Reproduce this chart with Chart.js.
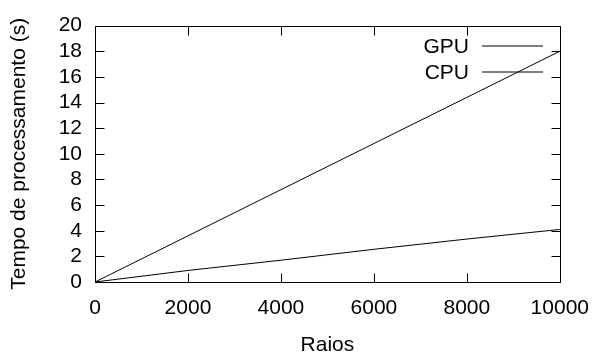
<!DOCTYPE html>
<html>
<head>
<meta charset="utf-8">
<script src="https://cdn.jsdelivr.net/npm/chart.js@4/dist/chart.umd.min.js"></script>
<style>
  html, body { margin: 0; padding: 0; background: #fff; }
  #wrap { width: 603px; height: 358px; }
</style>
</head>
<body>
<div id="wrap"><canvas id="c" width="603" height="358"></canvas></div>
<script>
// ---- data ----
const raios = [0, 2000, 4000, 6000, 8000, 10000];
const gpuTempo = [0, 3.6, 7.2, 10.8, 14.4, 18.0];
const cpuTempo = [0, 0.9, 1.7, 2.55, 3.35, 4.1];
const seriesLabels = ['GPU', 'CPU'];
const xTitle = 'Raios';
const yTitle = 'Tempo de processamento (s)';
const xTickStep = 2000, xMin = 0, xMax = 10000;
const yTickStep = 2, yMin = 0, yMax = 20;

const FONT = "'Liberation Sans', Arial, Helvetica, sans-serif";
const FSIZE = 21;

function toPoints(xs, ys) { return xs.map((x, i) => ({ x: x, y: ys[i] })); }

const framePlugin = {
  id: 'frame',
  afterDatasetsDraw(chart) {
    const ctx = chart.ctx;
    const a = chart.chartArea;
    const xs = chart.scales.x, ys = chart.scales.y;
    const L = Math.round(a.left) + 0.5, R = Math.round(a.right) + 0.5;
    const T = Math.round(a.top) + 0.5, B = Math.round(a.bottom) + 0.5;
    const tl = 9;
    ctx.save();
    ctx.strokeStyle = '#000';
    ctx.lineWidth = 1;
    ctx.beginPath();
    ctx.rect(L, T, R - L, B - T);
    xs.ticks.forEach(t => {
      const px = Math.round(xs.getPixelForValue(t.value)) + 0.5;
      ctx.moveTo(px, B); ctx.lineTo(px, B - tl);
      ctx.moveTo(px, T); ctx.lineTo(px, T + tl);
    });
    ys.ticks.forEach(t => {
      const py = Math.round(ys.getPixelForValue(t.value)) + 0.5;
      ctx.moveTo(L, py); ctx.lineTo(L + tl, py);
      ctx.moveTo(R, py); ctx.lineTo(R - tl, py);
    });
    ctx.stroke();

    ctx.font = FSIZE + 'px ' + FONT;
    ctx.fillStyle = '#000';
    ctx.textAlign = 'right';
    ctx.textBaseline = 'middle';
    const textRight = 469, sx0 = 482, sx1 = 543;
    const rowY = [46, 72];
    chart.data.datasets.forEach((ds, i) => {
      const y = rowY[i];
      ctx.fillText(ds.label, textRight, y + 1);
      ctx.beginPath();
      ctx.strokeStyle = ds.borderColor;
      ctx.lineWidth = 1;
      ctx.moveTo(sx0, y); ctx.lineTo(sx1, y);
      ctx.stroke();
    });
    ctx.restore();
  }
};

new Chart(document.getElementById('c'), {
  type: 'line',
  data: {
    datasets: [
      { label: seriesLabels[0], data: toPoints(raios, gpuTempo), borderColor: '#000', borderWidth: 1, pointRadius: 0, tension: 0, fill: false },
      { label: seriesLabels[1], data: toPoints(raios, cpuTempo), borderColor: '#000', borderWidth: 1, pointRadius: 0, tension: 0, fill: false }
    ]
  },
  options: {
    responsive: false,
    animation: false,
    events: [],
    layout: { padding: { left: 0, right: 35, top: 24, bottom: 0 } },
    plugins: { legend: { display: false }, tooltip: { enabled: false } },
    scales: {
      x: {
        type: 'linear', min: xMin, max: xMax,
        grid: { display: false, drawTicks: false },
        border: { display: false },
        ticks: { stepSize: xTickStep, color: '#000', font: { family: FONT, size: FSIZE }, padding: 14, maxRotation: 0, autoSkip: false, callback: v => String(v) },
        title: { display: true, text: xTitle, color: '#000', font: { family: FONT, size: FSIZE }, padding: { top: 0, bottom: 0 } },
        afterFit(s) { s.height = 76; }
      },
      y: {
        type: 'linear', min: yMin, max: yMax,
        grid: { display: false, drawTicks: false },
        border: { display: false },
        ticks: { stepSize: yTickStep, color: '#000', font: { family: FONT, size: FSIZE }, padding: 13, autoSkip: false, callback: v => String(v) },
        title: { display: true, text: yTitle, color: '#000', font: { family: FONT, size: FSIZE }, padding: { top: 7, bottom: 0 } },
        afterFit(s) { s.width = 95; }
      }
    }
  },
  plugins: [framePlugin]
});
</script>
</body>
</html>
